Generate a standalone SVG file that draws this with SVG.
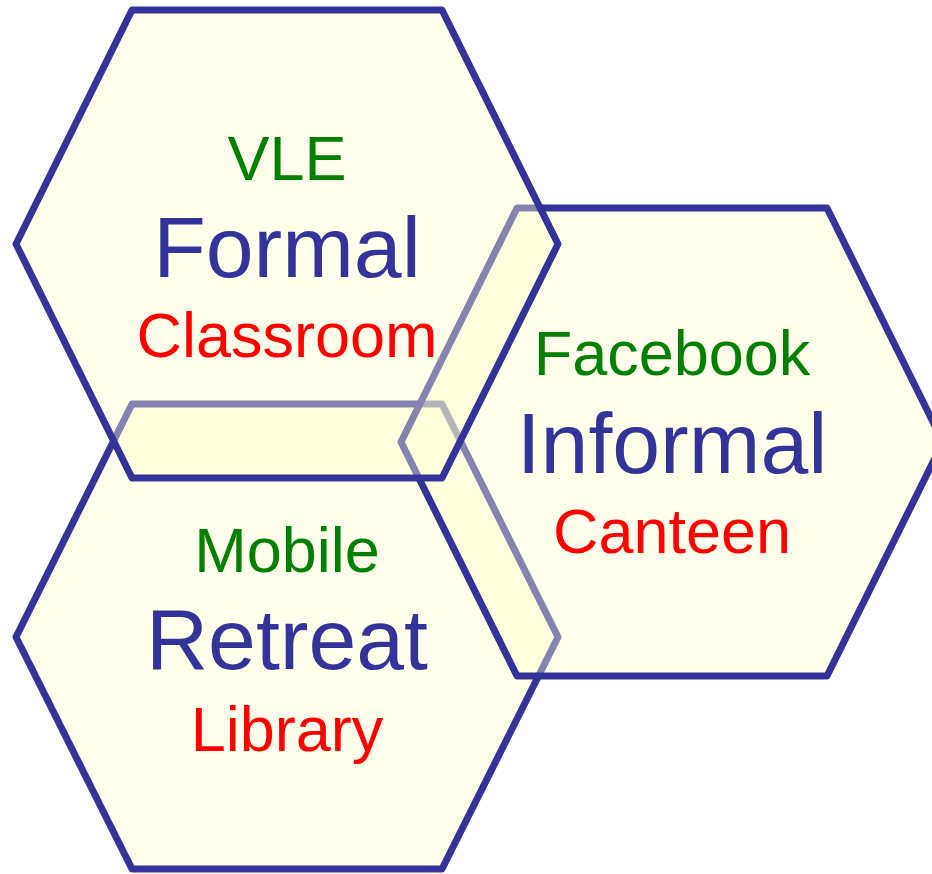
<svg xmlns="http://www.w3.org/2000/svg" width="932" height="874" viewBox="0 0 932 874">
<style>
.hex{fill:#FFFFCC;fill-opacity:0.4;stroke:#333399;stroke-width:7;stroke-linejoin:round}
text{font-family:"Liberation Sans",Arial,sans-serif;text-anchor:middle}
.g{fill:#008000;font-size:63px}
.b{fill:#333399;font-size:86px}
.r{fill:#FF0000;font-size:63px}
</style>
<rect width="932" height="874" fill="#FFFFFF"/>
<g id="retreat">
<polygon class="hex" points="132,404 442,404 558,637 442,869 132,869 16,637"/>
<text class="g" x="287" y="572">Mobile</text>
<text class="b" x="287" y="669">Retreat</text>
<text class="r" x="287" y="751">Library</text>
</g>
<g id="informal">
<polygon class="hex" points="517,208 827,208 943,442 827,676 517,676 401,442"/>
<text class="g" x="672" y="375">Facebook</text>
<text class="b" x="672" y="473">Informal</text>
<text class="r" x="672" y="553">Canteen</text>
</g>
<g id="formal">
<polygon class="hex" points="132,10 442,10 558,244 442,478 132,478 16,244"/>
<text class="g" x="287" y="180">VLE</text>
<text class="b" x="287" y="277">Formal</text>
<text class="r" x="287" y="357">Classroom</text>
</g>
<g id="connectors"/>
</svg>
